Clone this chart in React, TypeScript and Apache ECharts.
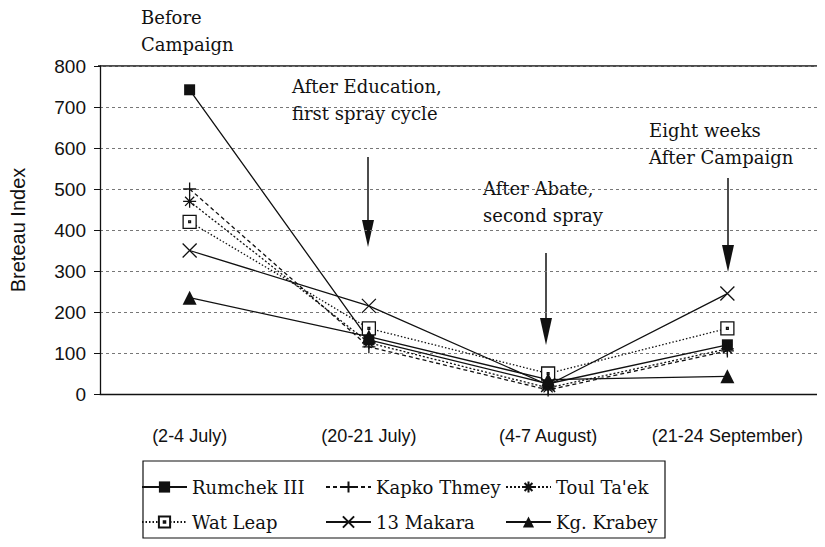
import React, { useEffect, useRef } from "react";
import * as echarts from "echarts";

const categories = ["(2-4 July)", "(20-21 July)", "(4-7 August)", "(21-24 September)"];
const rumchek = [742, 132, 25, 120];
const kapko = [500, 115, 10, 105];
const toulTaek = [470, 125, 15, 110];
const watLeap = [420, 160, 50, 160];
const makara = [350, 215, 22, 245];
const krabey = [235, 140, 35, 43];
const yTicks = { min: 0, max: 800, interval: 100 };

const SERIF = "DejaVu Serif";
const SANS = "Liberation Sans";

export default function App() {
  const ref = useRef<HTMLDivElement>(null);
  useEffect(() => {
    const chart = echarts.init(ref.current!, null, { renderer: "svg" });
    const mk = (
      name: string,
      data: number[],
      symbol: string,
      size: number,
      lineType: any,
      fill: string,
      lw = 1.3
    ) => ({
      name,
      type: "line",
      data,
      symbol,
      symbolSize: size,
      showAllSymbol: true,
      lineStyle: { color: "#111", width: lw, type: lineType },
      itemStyle: { color: fill, borderColor: "#111", borderWidth: fill === "#111" ? 0 : 1.3 },
      z: 3,
    });
    const arrow = (x: number, y1: number, y2: number) => [
      { type: "line", shape: { x1: x, y1, x2: x, y2: y2 - 10 }, style: { stroke: "#111", lineWidth: 1.5 } },
      {
        type: "polygon",
        shape: { points: [[x - 6, y2 - 27], [x + 6, y2 - 27], [x, y2]] },
        style: { fill: "#111" },
      },
    ];
    const txt = (x: number, y: number, t: string) => ({
      type: "text",
      x,
      y,
      style: { text: t, fontFamily: SERIF, fontSize: 18, fill: "#111", verticalAlign: "middle" },
    });
    const legendBase = {
      orient: "vertical",
      top: 477,
      padding: 0,
      itemWidth: 45,
      itemHeight: 14,
      itemGap: 15,
      selectedMode: false,
      textStyle: { fontFamily: SERIF, fontSize: 18, lineHeight: 20, color: "#111" },
    };
    chart.setOption({
      animation: false,
      backgroundColor: "#fff",
      grid: { left: 98, right: 8, top: 66, bottom: 153 },
      xAxis: {
        type: "category",
        data: categories,
        boundaryGap: true,
        axisLine: { lineStyle: { color: "#111", width: 1.3 } },
        axisTick: { alignWithLabel: true, length: 7, lineStyle: { color: "#111" } },
        axisLabel: { interval: 0, margin: 33, fontFamily: SANS, fontSize: 18, color: "#111" },
      },
      yAxis: {
        type: "value",
        min: yTicks.min,
        max: yTicks.max,
        interval: yTicks.interval,
        name: "Breteau Index",
        nameLocation: "middle",
        nameGap: 72,
        nameTextStyle: { fontFamily: SANS, fontSize: 20, color: "#111" },
        axisLine: { show: true, lineStyle: { color: "#111", width: 1.3 } },
        axisTick: { show: true, length: 6, lineStyle: { color: "#111" } },
        axisLabel: { margin: 14, fontFamily: SANS, fontSize: 19, color: "#111" },
        splitLine: { lineStyle: { color: "#777", width: 1, type: [3, 3] } },
      },
      legend: [
        { ...legendBase, left: 141, data: ["Rumchek III", "Wat Leap"] },
        { ...legendBase, left: 325, data: ["Kapko Thmey", "13 Makara"] },
        { ...legendBase, left: 505, data: ["Toul Ta'ek", "Kg. Krabey"] },
      ],
      series: [
        mk("Rumchek III", rumchek, "rect", 11, "solid", "#111"),
        mk("Kapko Thmey", kapko, "path://M5,0V10M0,5H10", 13, [4, 3], "none"),
        mk("Toul Ta'ek", toulTaek, "path://M5,0V10M0,5H10M1.5,1.5L8.5,8.5M8.5,1.5L1.5,8.5", 13, [2, 2], "none"),
        mk("Wat Leap", watLeap, "path://M0,0H10V10H0ZM4.3,4.3H5.7V5.7H4.3Z", 13, [1.5, 2], "#fff"),
        mk("13 Makara", makara, "path://M0,0L10,10M10,0L0,10", 14, "solid", "none"),
        mk("Kg. Krabey", krabey, "triangle", 14, "solid", "#111"),
      ],
      graphic: [
        { type: "line", shape: { x1: 98, y1: 66, x2: 820, y2: 66 }, style: { stroke: "#111", lineWidth: 1.3 } },
        { type: "line", shape: { x1: 819, y1: 66, x2: 819, y2: 167 }, style: { stroke: "#111", lineWidth: 1 } },
        { type: "rect", shape: { x: 143, y: 461, width: 522, height: 77 }, style: { fill: "none", stroke: "#111", lineWidth: 1.2 } },
        txt(141, 17, "Before"),
        txt(141, 44, "Campaign"),
        txt(292, 86, "After Education,"),
        txt(292, 113, "first spray cycle"),
        txt(649, 130, "Eight weeks"),
        txt(649, 157, "After Campaign"),
        txt(483, 188, "After Abate,"),
        txt(483, 215, "second spray"),
        ...arrow(368, 157, 247),
        ...arrow(546, 253, 345),
        ...arrow(728, 178, 272),
      ],
    });
    return () => chart.dispose();
  }, []);
  return <div ref={ref} style={{ width: 825, height: 547, margin: -8 }} />;
}
